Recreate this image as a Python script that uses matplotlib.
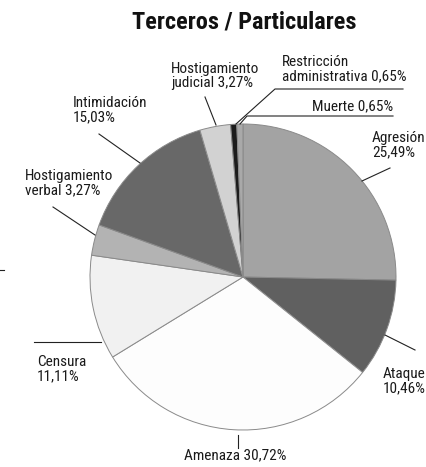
import matplotlib
matplotlib.use('Agg')
import matplotlib.pyplot as plt

# Datos (porcentajes), en orden horario desde arriba
categorias = ['Agresión', 'Ataque', 'Amenaza', 'Censura', 'Hostigamiento verbal',
              'Intimidación', 'Hostigamiento judicial', 'Restricción administrativa', 'Muerte']
valores = [25.49, 10.46, 30.72, 11.11, 3.27, 15.03, 3.27, 0.65, 0.65]
etiquetas = ['Agresión\n25,49%', 'Ataque\n10,46%', 'Amenaza 30,72%', 'Censura\n11,11%',
             'Hostigamiento\nverbal 3,27%', 'Intimidación\n15,03%',
             'Hostigamiento\njudicial 3,27%', 'Restricción\nadministrativa 0,65%', 'Muerte 0,65%']
colores = ['#a3a3a3', '#606060', '#fdfdfd', '#f1f1f1', '#b3b3b3',
           '#686868', '#d2d2d2', '#1c1c1c', '#a9a9a9']

plt.rcParams['font.family'] = ['Roboto Condensed', 'DejaVu Sans']

W, H = 426, 467
fig = plt.figure(figsize=(W / 100, H / 100), dpi=100)
ax = fig.add_axes([0, 0, 1, 1])

# eje en pixeles, y invertido (por eso counterclock=True da sentido horario)
ax.pie(valores, colors=colores, center=(243, 277), radius=153,
       startangle=-90, counterclock=True,
       wedgeprops=dict(edgecolor='#8a8a8a', linewidth=0.7))
ax.set_xlim(0, W)
ax.set_ylim(H, 0)
ax.set_aspect('auto')
ax.axis('off')

# posiciones de las etiquetas (x, y, alineación)
pos = [(372, 145, 'left'), (383, 381, 'left'), (235, 455, 'center'), (37, 369, 'left'),
       (25, 183, 'left'), (73, 110, 'left'), (171, 76, 'left'), (282, 69, 'left'),
       (393, 106, 'right')]
for (x, y, ha), txt in zip(pos, etiquetas):
    ax.text(x, y, txt, ha=ha, va='center', fontsize=11, color='#1a1a1a',
            linespacing=1.0)

# líneas guía
guias = [
    [(390, 168), (362, 181)],
    [(415, 350), (385, 335)],
    [(238, 448), (238, 435)],
    [(34, 342), (101, 342)],
    [(53, 207), (95, 235)],
    [(99, 134), (140, 163)],
    [(205, 97), (216, 125)],
    [(403, 89), (275, 89), (236, 124)],
    [(393, 116), (247, 116), (240, 124)],
    [(0, 270), (4, 270)],
]
for g in guias:
    xs, ys = zip(*g)
    ax.plot(xs, ys, color='#222222', linewidth=0.8)

ax.text(244, 22, 'Terceros / Particulares', ha='center', va='center',
        fontsize=17.5, fontweight='black', color='#111111')

fig.savefig('out.png', dpi=100)
